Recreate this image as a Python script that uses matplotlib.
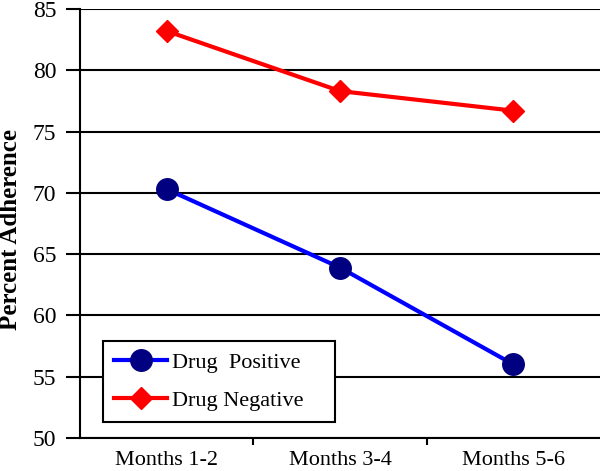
import numpy as np
import matplotlib.pyplot as plt

periods = ['Months 1-2', 'Months 3-4', 'Months 5-6']
drug_positive = [70.3, 63.9, 56.0]
drug_negative = [83.2, 78.3, 76.7]


def main():
    plt.rcParams['font.family'] = 'Liberation Serif'

    fig = plt.figure(figsize=(6, 4.71), dpi=100)
    ax = fig.add_axes([0.1333, 0.07, 0.867, 0.911])

    x = np.arange(len(periods))
    ax.plot(x, drug_positive, color='#0000FF', linewidth=3, marker='o',
            markersize=15.5, markerfacecolor='#000080', markeredgecolor='#000080',
            label='Drug  Positive', zorder=3)
    ax.plot(x, drug_negative, color='#FF0000', linewidth=3, marker='D',
            markersize=11, markerfacecolor='#FF0000', markeredgecolor='#FF0000',
            label='Drug Negative', zorder=3)

    ax.set_xlim(-0.5, 2.5)
    ax.set_ylim(50, 85)
    ax.set_yticks(np.arange(50, 86, 5))
    ax.yaxis.grid(True, color='black', linewidth=1.5)
    ax.set_axisbelow(True)

    ax.set_xticks(x)
    ax.set_xticklabels(periods, fontsize=16)
    ax.set_xticks([0.5, 1.5], minor=True)
    ax.tick_params(axis='x', which='major', length=0, pad=9)
    ax.tick_params(axis='x', which='minor', length=5, width=1.5, direction='out')
    ax.tick_params(axis='y', labelsize=17, length=10, width=1.5, direction='out', pad=7)

    for side in ['top', 'right']:
        ax.spines[side].set_visible(False)
    ax.spines['left'].set_linewidth(1.5)
    ax.spines['bottom'].set_linewidth(1.5)

    ax.set_ylabel('Percent Adherence', fontsize=18, fontweight='bold')
    ax.yaxis.set_label_coords(-0.112, 0.485)

    # fixed legend box, like the original
    leg = ax.legend(loc='upper left', bbox_to_anchor=(0.044, 0.042, 0.446, 0.184),
                    mode='expand', fontsize=16, frameon=True, fancybox=False,
                    edgecolor='black', framealpha=1, handlelength=2.4,
                    handletextpad=0.2, borderpad=0.5, labelspacing=0.8,
                    borderaxespad=0)
    leg.get_frame().set_linewidth(1.5)

    fig.savefig('out.png', dpi=100)


if __name__ == '__main__':
    main()
